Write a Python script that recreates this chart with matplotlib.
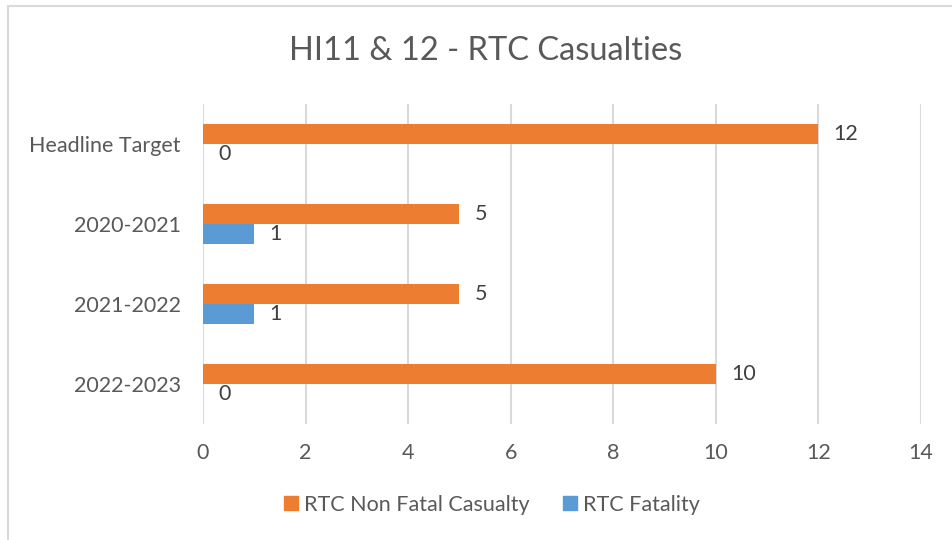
import matplotlib.pyplot as plt
import numpy as np
from matplotlib.lines import Line2D
from matplotlib.patches import Rectangle

categories = ['Headline Target', '2020-2021', '2021-2022', '2022-2023']
non_fatal = [12, 5, 5, 10]
fatality = [0, 1, 1, 0]
series_names = ['RTC Non Fatal Casualty', 'RTC Fatality']

ORANGE = '#ED7D31'
BLUE = '#5B9BD5'
TEXT = '#595959'
GRID = '#D9D9D9'
FS = 15.5

plt.rcParams['font.family'] = ['Lato', 'DejaVu Sans']

fig = plt.figure(figsize=(9.52, 5.4), dpi=100)
# light chart-area frame, open to the right and bottom
fig.patches.append(Rectangle((8 / 952, -0.1), 1.2, 1 - 6 / 540 + 0.1,
                             transform=fig.transFigure, fill=False,
                             edgecolor=GRID, linewidth=1.5))

ax = fig.add_axes([203 / 952, 1 - 424 / 540, 718 / 952, 320 / 540])

y = np.arange(len(categories))
h = 0.25
ax.barh(y - h / 2, non_fatal, height=h, color=ORANGE, zorder=3)
ax.barh(y + h / 2, fatality, height=h, color=BLUE, zorder=3)

for yi, v in zip(y, non_fatal):
    ax.annotate(str(v), (v, yi - h / 2), xytext=(11, 0), textcoords='offset points',
                va='center', ha='left', fontsize=FS, color='#404040')
for yi, v in zip(y, fatality):
    ax.annotate(str(v), (v, yi + h / 2), xytext=(11, 0), textcoords='offset points',
                va='center', ha='left', fontsize=FS, color='#404040')

ax.set_ylim(len(categories) - 0.5, -0.5)
ax.set_xlim(0, 14)
ax.set_xticks(range(0, 15, 2))
ax.set_yticks(y)
ax.set_yticklabels(categories)
ax.tick_params(axis='both', length=0, labelsize=FS, colors=TEXT)
ax.tick_params(axis='y', pad=16)
ax.tick_params(axis='x', pad=14)
ax.xaxis.grid(True, color=GRID, linewidth=1.5, zorder=0)
for s in ax.spines.values():
    s.set_visible(False)

fig.text(486 / 952, 1 - 51 / 540, 'HI11 & 12 - RTC Casualties', ha='center', va='center',
         fontsize=23.5, color=TEXT)

handles = [Line2D([], [], marker='s', linestyle='none', markersize=9.5, color=c)
           for c in (ORANGE, BLUE)]
fig.legend(handles, series_names, loc='center', bbox_to_anchor=(490 / 952, 1 - 505 / 540),
           ncol=2, frameon=False, fontsize=FS, labelcolor=TEXT, handletextpad=0.1,
           columnspacing=1.4, handlelength=1.0)

fig.savefig('out.png', dpi=100)
